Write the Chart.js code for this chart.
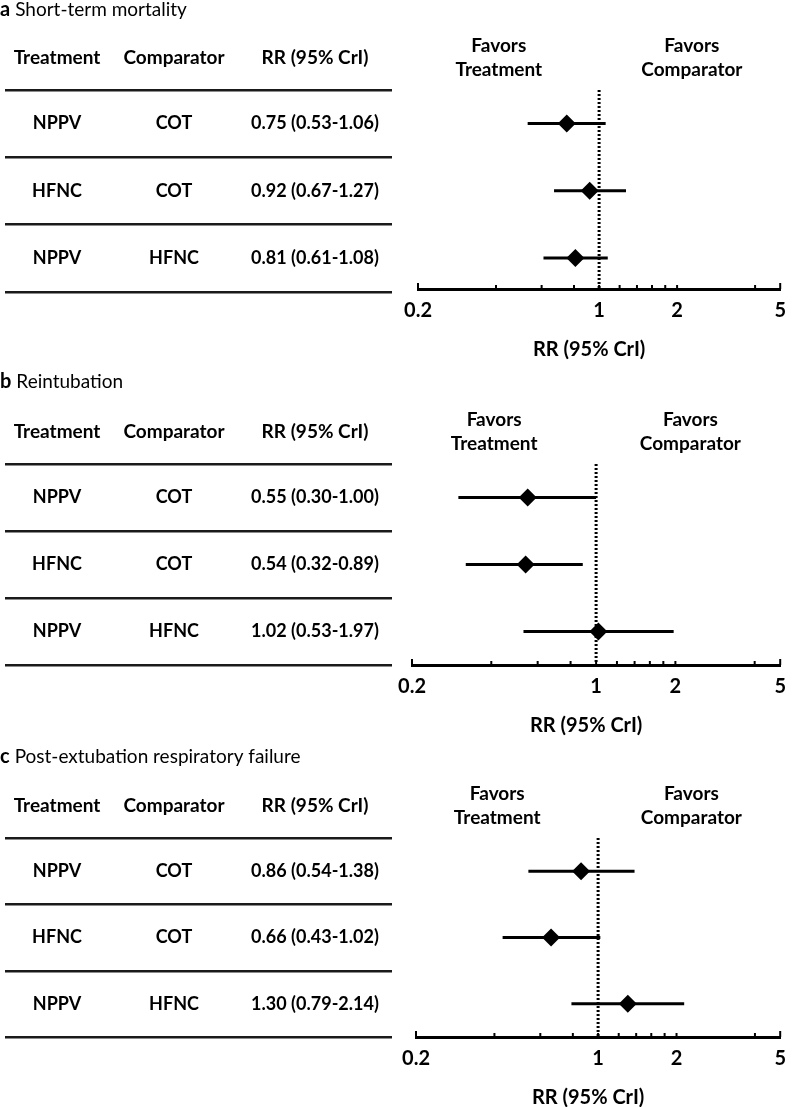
<!DOCTYPE html>
<html><head><meta charset="utf-8">
<script src="https://cdn.jsdelivr.net/npm/chart.js@4.4.1/dist/chart.umd.min.js"></script>
<style>
html,body{margin:0;padding:0;background:#fff;}
#wrap{position:relative;width:796px;height:1107px;overflow:hidden;background:#fff;}
canvas{position:absolute;left:0;}
</style></head><body><div id="wrap">
<canvas id="c0" width="796" height="370" style="top:0px"></canvas>
<canvas id="c1" width="796" height="370" style="top:370px"></canvas>
<canvas id="c2" width="796" height="367" style="top:740px"></canvas>
</div>
<script>
// ---------- data ----------
const panelLetters = ['a', 'b', 'c'];
const outcomeTitles = ['Short-term mortality', 'Reintubation', 'Post-extubation respiratory failure'];
const columnHeaders = ['Treatment', 'Comparator', 'RR (95% CrI)'];
const treatments = ['NPPV', 'HFNC', 'NPPV'];
const comparators = ['COT', 'COT', 'HFNC'];

const rrMortality   = [0.75, 0.92, 0.81];
const lowMortality  = [0.53, 0.67, 0.61];
const highMortality = [1.06, 1.27, 1.08];

const rrReintubation   = [0.55, 0.54, 1.02];
const lowReintubation  = [0.30, 0.32, 0.53];
const highReintubation = [1.00, 0.89, 1.97];

const rrFailure   = [0.86, 0.66, 1.30];
const lowFailure  = [0.54, 0.43, 0.79];
const highFailure = [1.38, 1.02, 2.14];

const favorLabels = [['Favors', 'Treatment'], ['Favors', 'Comparator']];
const xAxisTitle = 'RR (95% CrI)';
const tickValues = [0.2, 0.4, 0.6, 0.8, 1, 1.2, 1.4, 1.6, 1.8, 2, 4, 5];
const tickLabels = ['0.2', '1', '2', '5'];
const nullValue = 1;

// ---------- layout / style ----------
const FONT = 'Lato, "Open Sans", sans-serif';
const AXIS_H = 70;
const layouts = [
  { h: 370, top: 90, axis: 289, left: 418, right: 787, titleY: 10, yMax: 2.96 },
  { h: 370, top: 94, axis: 295, left: 412, right: 787, titleY: 12, yMax: 3 },
  { h: 367, top: 98, axis: 297, left: 416, right: 792, titleY: 17, yMax: 3 }
];
const colX = [57, 174, 315];
const favAnchors = [0.41, 2.28];

const forestPlugin = {
  id: 'forestTable',
  afterDraw(chart, args, opts) {
    const { ctx, chartArea, scales: { x, y } } = chart;
    ctx.save();
    ctx.fillStyle = '#000';
    ctx.strokeStyle = '#000';
    ctx.textBaseline = 'middle';

    // panel title
    ctx.textAlign = 'left';
    ctx.font = `bold 20px ${FONT}`;
    ctx.fillText(opts.letter, 0, opts.titleY);
    const lw = ctx.measureText(opts.letter).width;
    ctx.font = `19px ${FONT}`;
    ctx.fillText(opts.title, lw + 5, opts.titleY);

    const line0 = y.getPixelForValue(0);

    // column headers
    ctx.textAlign = 'center';
    ctx.font = `bold 19px ${FONT}`;
    columnHeaders.forEach((h, i) => ctx.fillText(h, colX[i], line0 - 32));

    // favors labels
    favorLabels.forEach((lines, i) => {
      const fx = x.getPixelForValue(favAnchors[i]);
      ctx.fillText(lines[0], fx, line0 - 44);
      ctx.fillText(lines[1], fx, line0 - 20);
    });

    // rows
    ctx.font = `bold 18px ${FONT}`;
    opts.rr.forEach((v, i) => {
      const yy = y.getPixelForValue(i + 0.5);
      ctx.fillText(treatments[i], colX[0], yy);
      ctx.fillText(comparators[i], colX[1], yy);
      ctx.fillText(`${v.toFixed(2)} (${opts.lo[i].toFixed(2)}-${opts.hi[i].toFixed(2)})`, colX[2], yy);
    });

    // table rules
    ctx.lineWidth = 2.5;
    ctx.strokeStyle = '#1a1a1a';
    for (let i = 0; i <= opts.rr.length; i++) {
      const yy = Math.round(y.getPixelForValue(i)) + 0.25;
      ctx.beginPath();
      ctx.moveTo(5, yy);
      ctx.lineTo(392, yy);
      ctx.stroke();
    }

    // tick marks (upward)
    ctx.strokeStyle = '#000';
    ctx.lineWidth = 2;
    const ay = chartArea.bottom;
    tickValues.forEach((v, i) => {
      const px = x.getPixelForValue(v);
      const end = (i === 0 || i === tickValues.length - 1);
      ctx.beginPath();
      ctx.moveTo(px, ay);
      ctx.lineTo(px, ay - (end ? 6 : 4));
      ctx.stroke();
    });

    // x axis title
    ctx.font = `bold 20px ${FONT}`;
    ctx.fillText(xAxisTitle, (chartArea.left + chartArea.right) / 2 - 10, ay + 61);
    ctx.restore();
  }
};

function makePanel(idx, rr, lo, hi) {
  const L = layouts[idx];
  const rowsY = rr.map((v, i) => i + 0.5);
  const datasets = [
    {
      data: rr.map((v, i) => ({ x: v, y: rowsY[i] })),
      showLine: false, pointStyle: 'rectRot', pointRadius: 9,
      backgroundColor: '#000', borderColor: '#000', borderWidth: 0, order: 0
    },
    ...rr.map((v, i) => ({
      data: [{ x: lo[i], y: rowsY[i] }, { x: hi[i], y: rowsY[i] }],
      showLine: true, borderColor: '#000', borderWidth: 3, pointRadius: 0, order: 1
    })),
    {
      data: [{ x: nullValue, y: 0 }, { x: nullValue, y: L.yMax }],
      showLine: true, borderColor: '#000', borderWidth: 3, borderDash: [2, 2],
      pointRadius: 0, order: 2
    }
  ];
  return new Chart(document.getElementById('c' + idx), {
    type: 'scatter',
    data: { datasets },
    options: {
      responsive: false,
      devicePixelRatio: 1,
      animation: false,
      events: [],
      layout: { padding: { left: L.left, right: 796 - L.right, top: L.top, bottom: L.h - L.axis - AXIS_H } },
      plugins: {
        legend: { display: false },
        tooltip: { enabled: false },
        forestTable: { letter: panelLetters[idx], title: outcomeTitles[idx], rr, lo, hi, titleY: L.titleY }
      },
      scales: {
        x: {
          type: 'logarithmic', min: tickValues[0], max: tickValues[tickValues.length - 1], position: 'bottom',
          afterBuildTicks: s => { s.ticks = tickValues.map(v => ({ value: v })); },
          afterFit: s => { s.height = AXIS_H; },
          grid: { display: false, drawTicks: false },
          border: { display: true, width: 3, color: '#000' },
          ticks: {
            autoSkip: false, maxRotation: 0, minRotation: 0, padding: 10, color: '#000',
            font: { family: FONT, size: 20, weight: 'bold' },
            callback: v => tickLabels.includes(String(v)) ? String(v) : ''
          }
        },
        y: { type: 'linear', min: 0, max: L.yMax, reverse: true, display: false }
      }
    },
    plugins: [forestPlugin]
  });
}

makePanel(0, rrMortality, lowMortality, highMortality);
makePanel(1, rrReintubation, lowReintubation, highReintubation);
makePanel(2, rrFailure, lowFailure, highFailure);
</script>
</body></html>
